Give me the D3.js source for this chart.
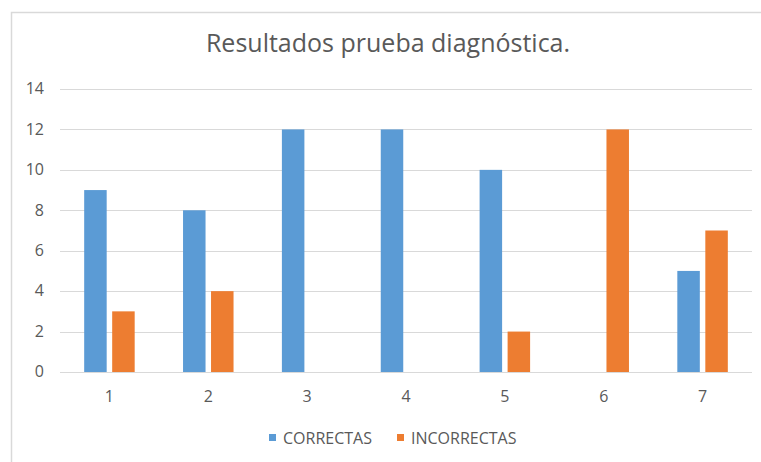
<!DOCTYPE html>
<html>
<head>
<meta charset="utf-8">
<script src="https://cdn.jsdelivr.net/npm/d3@7"></script>
<style>
  body { margin: 0; background: #fff; }
  text { font-family: "Open Sans", "Noto Sans", sans-serif; fill: #595959; }
</style>
</head>
<body>
<svg id="chart"></svg>
<script>
const WIDTH = 761;
const HEIGHT = 462;

// data
const categories = ["1", "2", "3", "4", "5", "6", "7"];
const correctas = [9, 8, 12, 12, 10, 0, 5];
const incorrectas = [3, 4, 0, 0, 2, 12, 7];
const yTicks = [0, 2, 4, 6, 8, 10, 12, 14];
const seriesNames = ["CORRECTAS", "INCORRECTAS"];
const seriesColors = ["#5B9BD5", "#ED7D31"];

const margin = {left: 60, right: 9, top: 89, bottom: 90};

let svg = d3.select('#chart')
    .attr('width', WIDTH)
    .attr('height', HEIGHT);

// chart frame (right/bottom edges fall outside the picture)
svg.append('path')
    .attr('d', 'M11.5,' + HEIGHT + 'V12.5H' + WIDTH)
    .style('fill', 'none')
    .style('stroke', '#d9d9d9')
    .style('stroke-width', 1.5);

svg.append('text')
    .attr('x', 388)
    .attr('y', 52)
    .attr('text-anchor', 'middle')
    .style('font-size', '25px')
    .text('Resultados prueba diagnóstica.');

const x = d3.scaleBand()
    .domain(categories)
    .range([margin.left, WIDTH - margin.right]);

const y = d3.scaleLinear()
    .domain([0, 14])
    .range([372, margin.top]);

// gridlines
svg.append('g')
    .selectAll('line')
    .data(yTicks)
    .enter()
    .append('line')
    .attr('x1', margin.left)
    .attr('x2', WIDTH - margin.right)
    .attr('y1', d => Math.round(y(d)) + 0.5)
    .attr('y2', d => Math.round(y(d)) + 0.5)
    .style('stroke', '#d9d9d9')
    .style('stroke-width', 1);

// y labels
svg.append('g')
    .selectAll('text')
    .data(yTicks)
    .enter()
    .append('text')
    .attr('x', 44)
    .attr('y', d => y(d))
    .attr('dy', '0.33em')
    .attr('text-anchor', 'end')
    .style('font-size', '16px')
    .text(d => d);

// x labels
svg.append('g')
    .selectAll('text')
    .data(categories)
    .enter()
    .append('text')
    .attr('x', d => x(d) + x.bandwidth() / 2)
    .attr('y', 402)
    .attr('text-anchor', 'middle')
    .style('font-size', '16px')
    .text(d => d);

const barW = 22.5;
const gap = 5.5;
const series = [correctas, incorrectas];

series.forEach((vals, si) => {
    svg.append('g')
        .selectAll('rect')
        .data(vals.map((v, i) => ({cat: categories[i], v: v})).filter(d => d.v > 0))
        .enter()
        .append('rect')
        .attr('x', d => {
            let c = x(d.cat) + x.bandwidth() / 2;
            return si === 0 ? c - gap / 2 - barW : c + gap / 2;
        })
        .attr('y', d => y(d.v))
        .attr('width', barW)
        .attr('height', d => y(0) - y(d.v))
        .style('fill', seriesColors[si]);
});

// legend
const legendX = [269, 397];
let legend = svg.append('g')
    .selectAll('g')
    .data(seriesNames)
    .enter()
    .append('g')
    .attr('transform', (d, i) => 'translate(' + legendX[i] + ',438)');

legend.append('rect')
    .attr('x', 0)
    .attr('y', -4)
    .attr('width', 7)
    .attr('height', 7)
    .style('fill', (d, i) => seriesColors[i]);

legend.append('text')
    .attr('x', 14)
    .attr('y', 0)
    .attr('dy', '0.35em')
    .style('font-size', '16px')
    .text(d => d);
</script>
</body>
</html>
